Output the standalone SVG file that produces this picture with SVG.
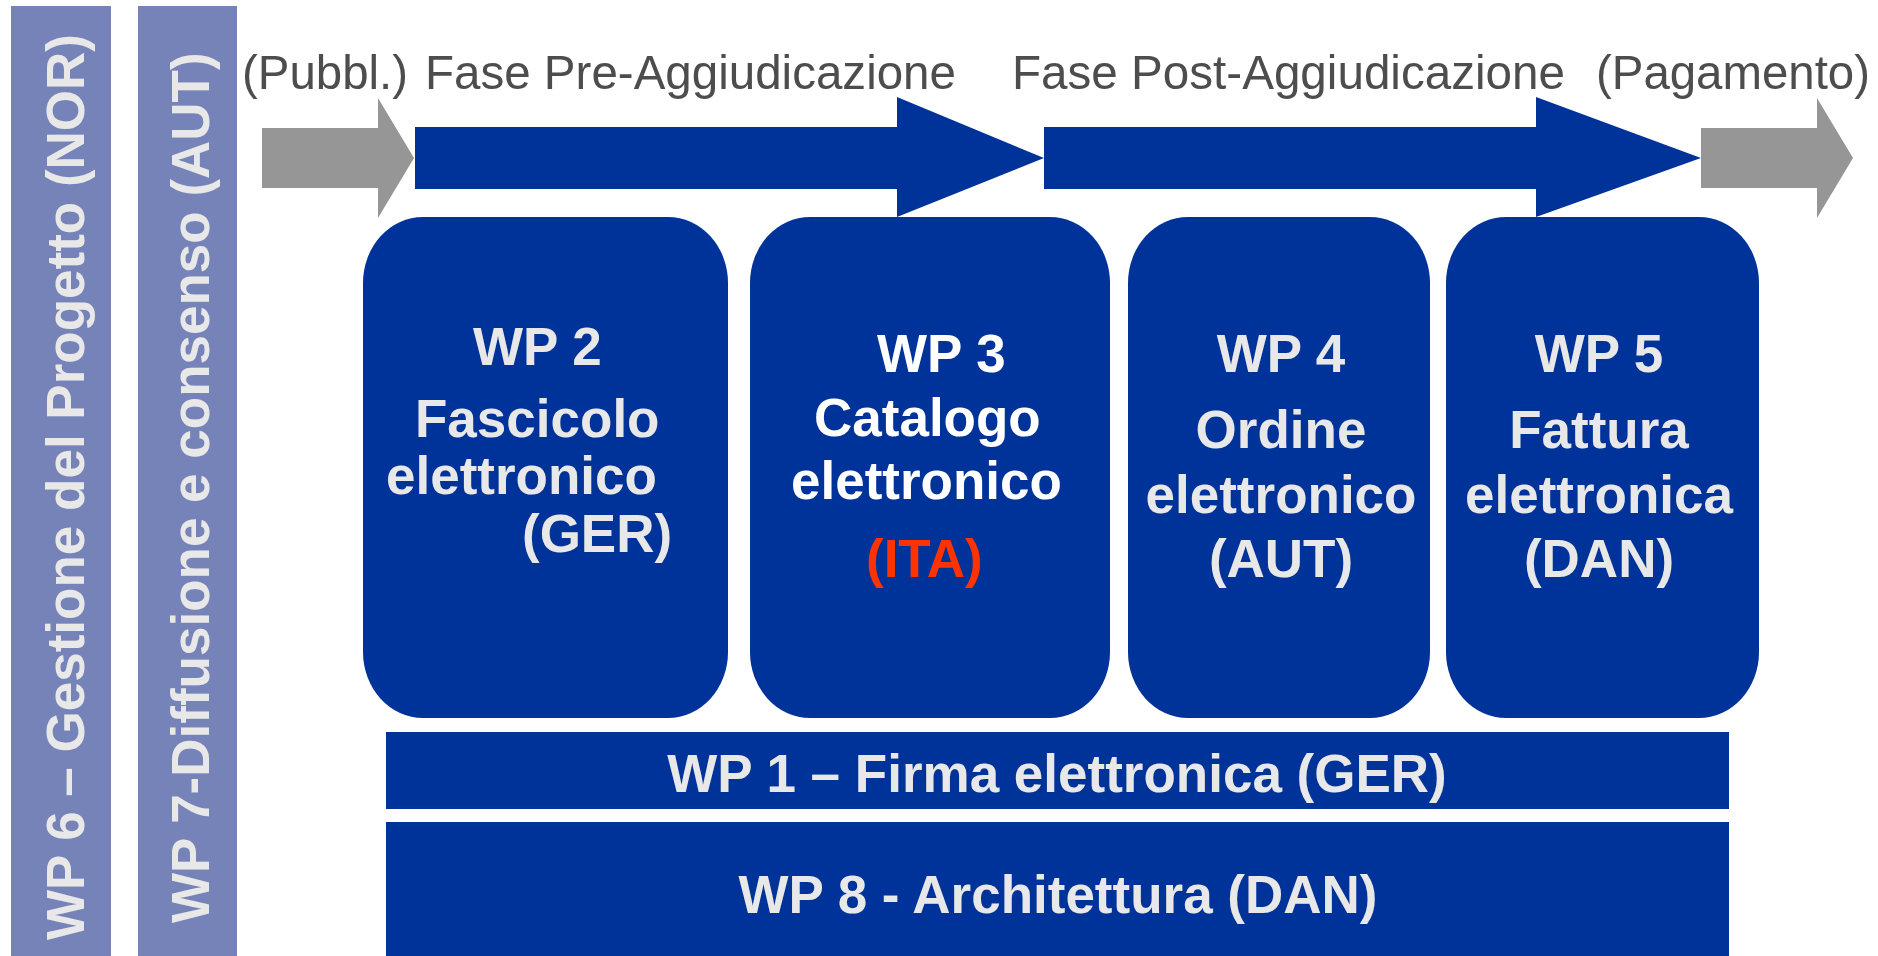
<svg xmlns="http://www.w3.org/2000/svg" width="1878" height="956" viewBox="0 0 1878 956">
<style>
.bg{fill:#ffffff}
.blue{fill:#003399}
.gray{fill:#969696}
.side{fill:#7683b9}
.lbl{font-family:"Liberation Sans",Arial,sans-serif;font-size:49px;fill:#4d4d4d}
.wp{font-family:"Liberation Sans",Arial,sans-serif;font-size:53px;font-weight:bold;fill:#e8e8e8}
.wpc{text-anchor:middle}
.white{fill:#ffffff}
.red{fill:#ff3300}
</style>
<rect class="bg" x="0" y="0" width="1878" height="956"/>

<g id="connectors">
  <polygon class="gray" points="262,128 378,128 378,98 414,158 378,218 378,188 262,188"/>
  <polygon class="blue" points="415,127 897,127 897,97 1044,158 897,217 897,189 415,189"/>
  <polygon class="blue" points="1044,127 1536,127 1536,97 1701,158 1536,217 1536,189 1044,189"/>
  <polygon class="gray" points="1701,128 1817,128 1817,98 1853,158 1817,218 1817,188 1701,188"/>
</g>

<g id="phase-labels">
  <text class="lbl" x="242" y="89" textLength="166" lengthAdjust="spacingAndGlyphs">(Pubbl.)</text>
  <text class="lbl" x="425" y="89" textLength="531" lengthAdjust="spacingAndGlyphs">Fase Pre-Aggiudicazione</text>
  <text class="lbl" x="1012" y="89" textLength="553" lengthAdjust="spacingAndGlyphs">Fase Post-Aggiudicazione</text>
  <text class="lbl" x="1596" y="89" textLength="274" lengthAdjust="spacingAndGlyphs">(Pagamento)</text>
</g>

<g id="wp6">
  <rect class="side" x="11" y="6" width="100" height="950"/>
  <text class="wp" transform="translate(84,940) rotate(-90)" x="0" y="0">WP 6 – Gestione del Progetto (NOR)</text>
</g>

<g id="wp7">
  <rect class="side" x="138" y="6" width="99" height="950"/>
  <text class="wp" transform="translate(209,923) rotate(-90)" x="0" y="0">WP 7-Diffusione e consenso (AUT)</text>
</g>

<g id="wp2">
  <rect class="blue" x="363" y="217" width="365" height="501" rx="60" ry="66"/>
  <text class="wp" x="473" y="365">WP 2</text>
  <text class="wp" x="415" y="437">Fascicolo</text>
  <text class="wp" x="386" y="494">elettronico</text>
  <text class="wp" x="522" y="552">(GER)</text>
</g>

<g id="wp3">
  <rect class="blue" x="750" y="217" width="360" height="501" rx="60" ry="66"/>
  <text class="wp white" x="877" y="372">WP 3</text>
  <text class="wp white" x="814" y="436">Catalogo</text>
  <text class="wp white" x="791" y="499">elettronico</text>
  <text class="wp red" x="866" y="577">(ITA)</text>
</g>

<g id="wp4">
  <rect class="blue" x="1128" y="217" width="302" height="501" rx="60" ry="66"/>
  <text class="wp wpc" x="1281" y="372">WP 4</text>
  <text class="wp wpc" x="1281" y="448">Ordine</text>
  <text class="wp wpc" x="1281" y="513">elettronico</text>
  <text class="wp wpc" x="1281" y="577">(AUT)</text>
</g>

<g id="wp5">
  <rect class="blue" x="1446" y="217" width="313" height="501" rx="60" ry="66"/>
  <text class="wp wpc" x="1599" y="372">WP 5</text>
  <text class="wp wpc" x="1599" y="448">Fattura</text>
  <text class="wp wpc" x="1599" y="513">elettronica</text>
  <text class="wp wpc" x="1599" y="577">(DAN)</text>
</g>

<g id="wp1">
  <rect class="blue" x="386" y="732" width="1343" height="77"/>
  <text class="wp wpc" x="1057" y="792">WP 1 – Firma elettronica (GER)</text>
</g>

<g id="wp8">
  <rect class="blue" x="386" y="822" width="1343" height="134"/>
  <text class="wp wpc" x="1058" y="913">WP 8 - Architettura (DAN)</text>
</g>
</svg>
